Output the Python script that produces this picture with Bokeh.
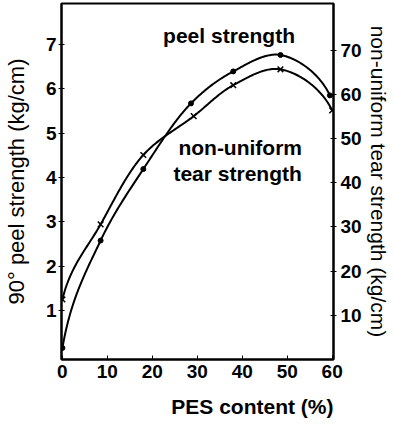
import numpy as np
from bokeh.plotting import figure
from bokeh.models import Range1d, LinearAxis, Label, FixedTicker, Title
from bokeh.embed import file_html
from bokeh.resources import INLINE

# PES content (%) and measured values
pes_peel = [0, 8.5, 18, 28.6, 38, 48.5, 59.5]
peel_strength = [0.16, 2.58, 4.19, 5.67, 6.39, 6.76, 5.85]       # kg/cm (left axis)
pes_tear = [0, 8.5, 18, 29.2, 38, 48.5, 60]
tear_strength = [13.6, 30.6, 46.3, 55.1, 62.1, 65.7, 56.4]        # kg/cm (right axis)

x_ticks = [0, 10, 20, 30, 40, 50, 60]
left_ticks = [1, 2, 3, 4, 5, 6, 7]
right_ticks = [10, 20, 30, 40, 50, 60, 70]


def smooth(xs, ys, sx, sy, n=40, k_start=3.0, k_end=3.0):
    """Centripetal Catmull-Rom curve through the data points (rendering only).
    Phantom end points are placed vertically so the curve leaves/enters steeply."""
    P = np.column_stack([np.asarray(xs, float) * sx, np.asarray(ys, float) * sy])
    d0 = np.linalg.norm(P[1] - P[0])
    d1 = np.linalg.norm(P[-1] - P[-2])
    first = P[0] - np.array([0.0, k_start * d0])
    last = P[-1] - np.array([0.0, k_end * d1])
    P = np.vstack([first, P, last])
    outx, outy = [], []
    for i in range(1, len(P) - 2):
        p0, p1, p2, p3 = P[i - 1], P[i], P[i + 1], P[i + 2]
        t0 = 0.0
        t1 = t0 + np.linalg.norm(p1 - p0) ** 0.5
        t2 = t1 + np.linalg.norm(p2 - p1) ** 0.5
        t3 = t2 + np.linalg.norm(p3 - p2) ** 0.5
        t = np.linspace(t1, t2, n)[:, None]
        A1 = (t1 - t) / (t1 - t0) * p0 + (t - t0) / (t1 - t0) * p1
        A2 = (t2 - t) / (t2 - t1) * p1 + (t - t1) / (t2 - t1) * p2
        A3 = (t3 - t) / (t3 - t2) * p2 + (t - t2) / (t3 - t2) * p3
        B1 = (t2 - t) / (t2 - t0) * A1 + (t - t0) / (t2 - t0) * A2
        B2 = (t3 - t) / (t3 - t1) * A2 + (t - t1) / (t3 - t1) * A3
        C = (t2 - t) / (t2 - t1) * B1 + (t - t1) / (t2 - t1) * B2
        outx.extend(C[:, 0] / sx)
        outy.extend(C[:, 1] / sy)
    return outx, outy


FONT = "Liberation Sans"

p = figure(frame_width=272, frame_height=356, output_backend="svg", toolbar_location=None,
           x_range=Range1d(-0.2, 60.3), y_range=Range1d(-0.1, 7.92),
           min_border_left=53, min_border_right=0, min_border_top=3, min_border_bottom=0)
p.extra_y_ranges = {"tear": Range1d(0, 80.6)}
p.xgrid.visible = False
p.ygrid.visible = False
p.outline_line_color = "black"
p.outline_line_width = 2
p.background_fill_color = "white"
p.border_fill_color = "white"

# bottom axis
xa = p.xaxis[0]
xa.ticker = FixedTicker(ticks=x_ticks)
xa.major_tick_in = 4
xa.major_tick_out = 0
xa.minor_tick_line_color = None
xa.axis_line_width = 2
xa.major_label_standoff = 5
xa.major_label_text_font = FONT
xa.major_label_text_font_style = "bold"
xa.major_label_text_font_size = "19px"
xa.major_label_text_color = "black"

# left axis
ya = p.yaxis[0]
ya.ticker = FixedTicker(ticks=left_ticks)
ya.major_tick_in = 3
ya.major_tick_out = 3
ya.minor_tick_line_color = None
ya.axis_line_width = 2
ya.major_label_standoff = 2
ya.major_label_text_font = FONT
ya.major_label_text_font_style = "bold"
ya.major_label_text_font_size = "19px"
ya.major_label_text_color = "black"
ya.axis_label = "90° peel strength (kg/cm)"
ya.axis_label_text_font = FONT
ya.axis_label_text_font_style = "normal"
ya.axis_label_text_font_size = "22px"
ya.axis_label_text_color = "black"
ya.axis_label_standoff = 14

# right axis
ra = LinearAxis(y_range_name="tear", ticker=FixedTicker(ticks=right_ticks))
ra.major_tick_in = 3
ra.major_tick_out = 3
ra.minor_tick_line_color = None
ra.axis_line_width = 2
ra.major_label_standoff = 4
ra.major_label_text_font = FONT
ra.major_label_text_font_style = "bold"
ra.major_label_text_font_size = "19px"
ra.major_label_text_color = "black"
ra.axis_label = "non-uniform tear strength (kg/cm)"
ra.axis_label_text_font = FONT
ra.axis_label_text_font_style = "normal"
ra.axis_label_text_font_size = "21px"
ra.axis_label_text_color = "black"
ra.axis_label_standoff = 2
p.add_layout(ra, "right")

# x axis title, right-aligned under the frame
xt = Title(text="PES content (%)", align="right", text_font=FONT, text_font_style="bold",
           text_font_size="21px", text_color="black", standoff=24, offset=0)
p.add_layout(xt, "below")

# curves
px, py = smooth(pes_peel, peel_strength, 4.51, 44.33, k_start=4.0, k_end=3.0)
p.line(px, py, line_color="black", line_width=2)
p.scatter(pes_peel, peel_strength, marker="circle", size=5, color="black")

tx, ty = smooth(pes_tear, tear_strength, 4.51, 4.417, k_start=3.0, k_end=3.0)
p.line(tx, ty, line_color="black", line_width=2, y_range_name="tear")
p.scatter(pes_tear, tear_strength, marker="x", size=8, line_color="black",
          line_width=1.5, y_range_name="tear")

# in-plot annotations
def lab(x, y, text, size="21px"):
    p.add_layout(Label(x=x, y=y, text=text, text_align="left", text_baseline="middle",
                       text_font=FONT, text_font_style="bold", text_font_size=size,
                       text_color="black"))

lab(22.4, 7.20, "peel strength")
lab(25.8, 4.67, "non-uniform")
lab(24.7, 4.08, "tear strength")

open("out.html", "w").write(file_html(p, INLINE))
